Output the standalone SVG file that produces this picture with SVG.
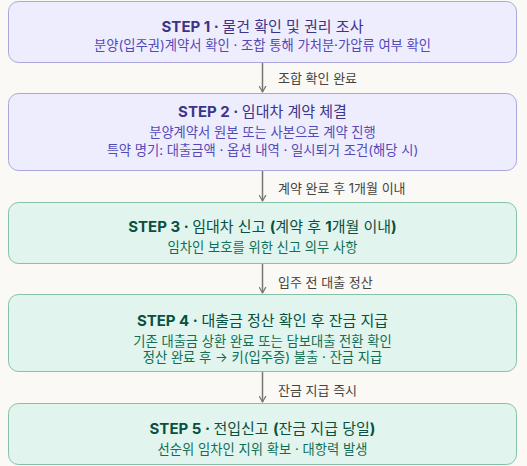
<svg xmlns="http://www.w3.org/2000/svg" width="527" height="466" viewBox="0 0 527 466">
<defs>
<marker id="arr" viewBox="0 0 10 10" refX="8" refY="5" markerWidth="8" markerHeight="8" orient="auto-start-reverse" markerUnits="userSpaceOnUse">
<path d="M1 1 L8 5 L1 9" fill="none" stroke="#777672" stroke-width="1.5" stroke-linecap="round" stroke-linejoin="round"/>
</marker>
<style>
text{font-family:"Inter","Noto Sans CJK KR",sans-serif;text-anchor:middle}
.p rect{fill:#eeedfe;stroke:#aaa6dc;stroke-width:1}
.g rect{fill:#e1f5ee;stroke:#85c0a8;stroke-width:1}
.t{font-size:15px;font-weight:400}
.b{font-weight:700}
.s{font-size:13.3px}
.p .t{fill:#3c3489}.p .s{fill:#534ab7}
.g .t{fill:#085041}.g .s{fill:#0f6e56}
.lbl{font-size:13px;fill:#444441;text-anchor:start}
.c line{stroke:#777672;stroke-width:1.5}
</style>
</defs>
<rect width="527" height="466" fill="#faf9f6"/>
<g class="c">
<line x1="262.5" y1="63" x2="262.5" y2="92" marker-end="url(#arr)"/>
<line x1="262.5" y1="171" x2="262.5" y2="201" marker-end="url(#arr)"/>
<line x1="262.5" y1="264" x2="262.5" y2="293" marker-end="url(#arr)"/>
<line x1="262.5" y1="372" x2="262.5" y2="402" marker-end="url(#arr)"/>
<text class="lbl" x="278" y="83">조합 확인 완료</text>
<text class="lbl" x="278" y="193">계약 완료 후 1개월 이내</text>
<text class="lbl" x="278" y="287">입주 전 대출 정산</text>
<text class="lbl" x="278" y="395">잔금 지급 즉시</text>
</g>
<g id="step1" class="p">
<rect x="8.5" y="1.5" width="508" height="61" rx="10"/>
<text class="t" x="262.5" y="32"><tspan class="b">STEP 1 · </tspan>물건 확인 및 권리 조사</text>
<text class="s" x="262.5" y="50">분양(입주권)계약서 확인 · 조합 통해 가처분·가압류 여부 확인</text>
</g>
<g id="step2" class="p">
<rect x="8.5" y="93.5" width="508" height="77" rx="10"/>
<text class="t" x="262.5" y="117"><tspan class="b">STEP 2 · </tspan>임대차 계약 체결</text>
<text class="s" x="262.5" y="137">분양계약서 원본 또는 사본으로 계약 진행</text>
<text class="s" x="262.5" y="155">특약 명기: 대출금액 · 옵션 내역 · 일시퇴거 조건(해당 시)</text>
</g>
<g id="step3" class="g">
<rect x="8.5" y="202.5" width="508" height="61" rx="10"/>
<text class="t" x="262.5" y="232"><tspan class="b">STEP 3 · </tspan>임대차 신고 <tspan class="b">(</tspan>계약 후 <tspan class="b">1</tspan>개월 이내<tspan class="b">)</tspan></text>
<text class="s" x="262.5" y="252">임차인 보호를 위한 신고 의무 사항</text>
</g>
<g id="step4" class="g">
<rect x="8.5" y="294.5" width="508" height="77" rx="10"/>
<text class="t" x="262.5" y="326"><tspan class="b">STEP 4 · </tspan>대출금 정산 확인 후 잔금 지급</text>
<text class="s" x="262.5" y="346">기존 대출금 상환 완료 또는 담보대출 전환 확인</text>
<text class="s" x="262.5" y="362">정산 완료 후 → 키(입주증) 불출 · 잔금 지급</text>
</g>
<g id="step5" class="g">
<rect x="8.5" y="403.5" width="508" height="61" rx="10"/>
<text class="t" x="262.5" y="434"><tspan class="b">STEP 5 · </tspan>전입신고 <tspan class="b">(</tspan>잔금 지급 당일<tspan class="b">)</tspan></text>
<text class="s" x="262.5" y="454">선순위 임차인 지위 확보 · 대항력 발생</text>
</g>
</svg>
